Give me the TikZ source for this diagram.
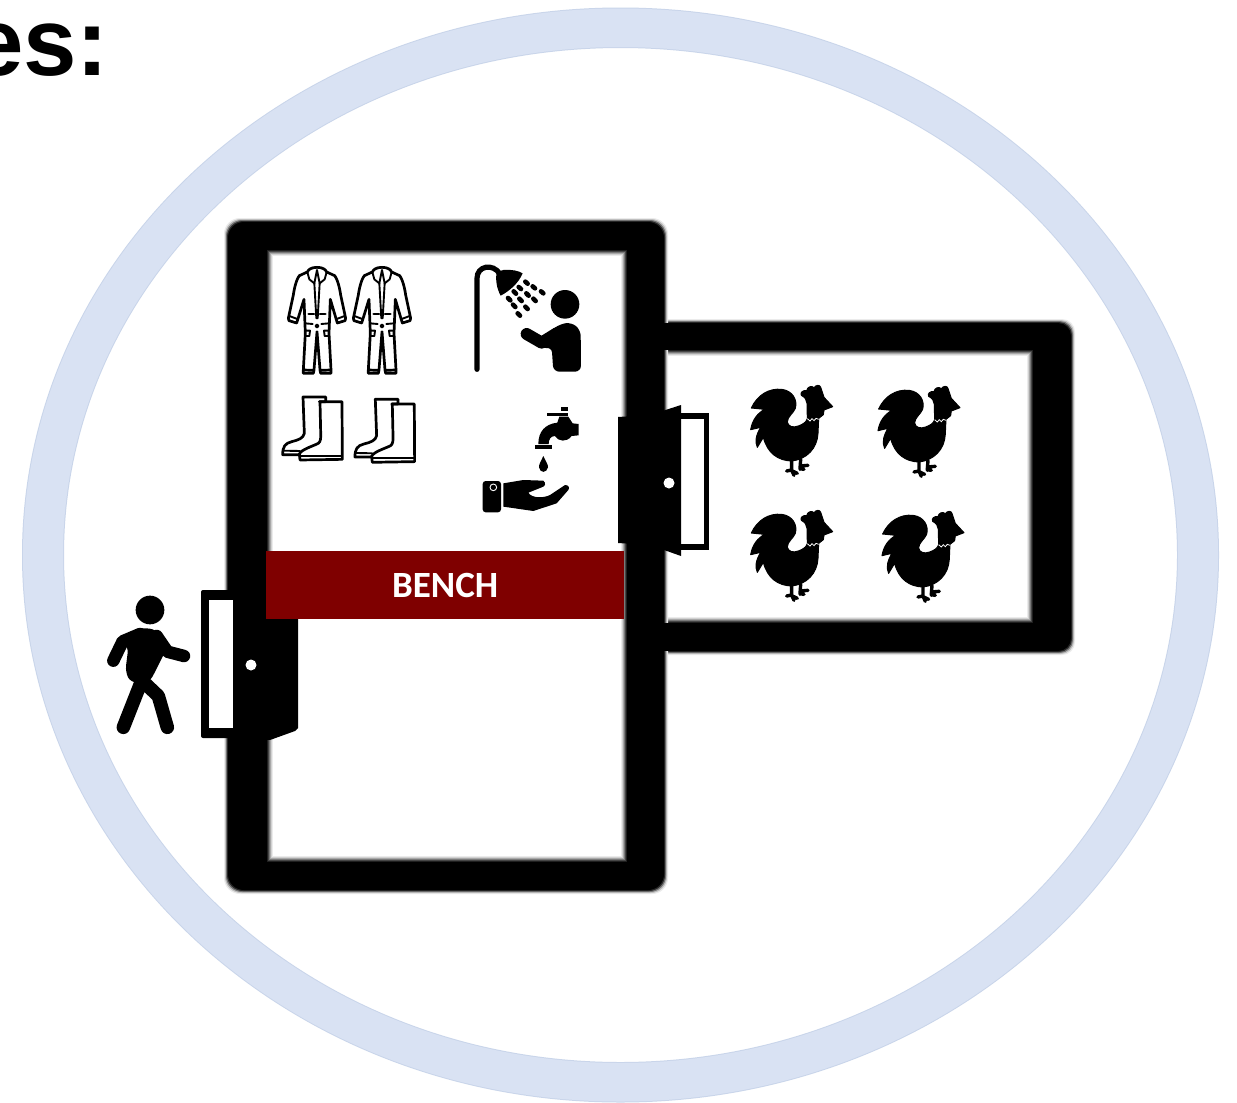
\documentclass[tikz,border=0pt]{standalone}
\usepackage{fontspec}
\setmainfont{Liberation Sans}
\newfontfamily\benchfont{Carlito}
\definecolor{ringblue}{HTML}{D9E2F3}
\definecolor{ringedge}{HTML}{C9D5EA}
\definecolor{benchred}{HTML}{7F0000}
\newcommand{\softbox}[5]{%
  \foreach \g/\d in {8/2,25/1,55/0,85/-1}{\fill[black!\g,rounded corners=#5] (#1-\d,#2-\d) rectangle (#3+\d,#4+\d);}
  \fill[black,rounded corners=#5] (#1+2,#2+2) rectangle (#3-2,#4-2);
}
\newcommand{\softhole}[4]{%
  \foreach \g/\d in {88/-3,72/-2,52/-1,34/0,18/1,8/2,0/3}{\fill[black!\g] (#1+\d,#2+\d) rectangle (#3-\d,#4-\d);}
}
\tikzset{
  x=1pt,y=-1pt,
  icon/.style={line width=2.7pt,line join=round,line cap=round},
  thin icon/.style={line width=1.9pt,line join=round,line cap=round},
  pics/rooster/.style={code={
    \filldraw[black,line width=1pt,line join=round] (668,110) -- (642,120) -- (640,134) -- (626,145) -- (624,190)
      .. controls (622,235) and (590,268) .. (545,273)
      .. controls (505,272) and (472,250) .. (460,202)
      -- (442,232) .. controls (434,215) and (438,195) .. (452,172)
      -- (422,179) .. controls (427,150) and (442,130) .. (464,118)
      -- (424,114) .. controls (442,75) and (477,54) .. (515,58)
      .. controls (548,62) and (563,90) .. (556,115)
      .. controls (550,130) and (532,140) .. (532,156)
      .. controls (534,170) and (550,174) .. (565,168)
      .. controls (578,163) and (588,158) .. (592,146)
      -- (591,100) .. controls (590,90) and (586,82) .. (574,76) .. controls (570,68) and (578,60) .. (590,62)
      .. controls (592,50) and (605,46) .. (612,53) .. controls (618,44) and (630,44) .. (632,52) -- (642,82) -- cycle;
    \draw[white,line width=.8pt] (592,146) -- (600,153) -- (606,146) -- (612,152) -- (618,145) -- (626,148);
    \draw[black,line width=3.4pt,line cap=round,line join=round]
      (545,272) -- (545,300) -- (530,303) (545,300) -- (552,316) (545,302) -- (562,310)
      (572,268) -- (570,298) (570,288) -- (594,286) (570,296) -- (582,298);
  }},
  pics/coverall/.style={code={
    \draw[icon] (141,52) .. controls (125,52) and (115,58) .. (112,66) -- (88,77) .. controls (78,90) and (72,120) .. (70,135) -- (55,205) -- (57,212) -- (80,219) -- (102,148)
      -- (106,250) -- (100,360) -- (100,370) -- (130,370) -- (132,360) -- (141,245) -- (150,360) -- (152,370) -- (183,370) -- (183,360) -- (177,250) -- (181,148)
      -- (202,219) -- (225,212) -- (227,205) -- (212,135) .. controls (210,120) and (204,90) .. (194,77) -- (170,66) .. controls (167,58) and (157,52) .. (141,52);
    \draw[thin icon] (112,66) -- (118,88) -- (133,100) -- (141,60) -- (149,100) -- (164,88) -- (170,66);
    \draw[thin icon] (133,100) -- (139,205) (149,100) -- (143,205);
    \draw[icon] (116,192) -- (132,192) (150,192) -- (166,192);
    \draw[icon] (141,228) circle[radius=3.2];
    \draw[thin icon] (105,220) -- (128,222) (177,220) -- (154,222);
    \draw[thin icon] (106,242) -- (120,242) -- (118,258) -- (106,258) (176,242) -- (162,242) -- (164,258) -- (176,258);
    \draw[thin icon] (58,198) -- (82,207) (224,198) -- (200,207);
    \draw[icon] (101,360) -- (130,361) (182,360) -- (152,361);
  }},
  pics/boots/.style={code={
    \draw[icon] (150,455) -- (216,455) -- (217,628) -- (90,630) -- (88,612) .. controls (95,598) and (125,590) .. (145,580) .. controls (152,575) and (153,565) .. (152,545) -- cycle;
    \draw[thin icon] (90,618) -- (216,618);
    \draw[icon] (148,455) -- (167,455) -- (167,441) -- (99,441) -- (103,550) .. controls (100,565) and (85,570) .. (65,575) .. controls (45,580) and (38,590) .. (38,614) -- (88,614);
    \draw[thin icon] (40,602) -- (90,603);
  }}
}
\begin{document}
\begin{tikzpicture}
\useasboundingbox (0,0) rectangle (1237,1103);
\clip (0,0) rectangle (1237,1103);
\fill[white] (0,0) rectangle (1237,1103);
% ring
\fill[ringedge,even odd rule] (620.5,555) ellipse[x radius=598.5,y radius=547.5] (620.5,555) ellipse[x radius=556.5,y radius=507];
\fill[ringblue,even odd rule] (620.5,555) ellipse[x radius=597.5,y radius=546.5] (620.5,555) ellipse[x radius=557.5,y radius=508];
% title fragment
\node[anchor=base east,inner sep=0pt,font=\bfseries\fontsize{96}{96}\selectfont] (title) at (109,75) {es:};
% walls
\softbox{640}{321}{1073}{653}{13}
\softhole{640}{353}{1030}{620}
\softbox{226}{220}{666}{892}{16}
\softhole{270}{253}{624}{859}
% wall joints
\fill[black] (655,323) rectangle (680,350);
\fill[black] (655,623) rectangle (680,651);
% left door
\fill[black,rounded corners=2pt] (201,590) rectangle (270,738);
\fill[white] (209,600) rectangle (233,728);
\fill[black] (233,590) -- (270,590) -- (270,619) -- (298,619) -- (298,728) -- (295,731) -- (270,740) -- (233,738) -- cycle;
\fill[white] (251,665) circle[radius=5.5];
% bench
\node[fill=benchred,text=white,minimum width=358pt,minimum height=68pt,inner sep=0pt,anchor=north west,font=\benchfont\bfseries\fontsize{37}{37}\selectfont] (bench) at (266,551) {BENCH};
% right door
\fill[black] (681,413) rectangle (709,550);
\fill[white] (681,419) rectangle (704,544);
\fill[black] (618,417) -- (650,415) -- (681,405) -- (681,556) -- (650,545) -- (618,543) -- cycle;
\fill[white] (669,483) circle[radius=5.5];
% walker
\begin{scope}[shift={(90,570)},scale=1/3]
  \fill (180,120) circle[radius=43];
  \fill[rounded corners=6pt] (92,200) -- (150,173) -- (198,178) -- (232,232) -- (180,335) -- (122,338) -- (106,305) -- (115,232) -- cycle;
  \draw[line width=12.5pt,line cap=round,line join=round] (70,272) -- (98,214) -- (150,192) (200,198) -- (232,245) -- (282,258);
  \draw[line width=13.5pt,line cap=round,line join=round] (100,472) -- (150,345) (232,472) -- (205,378) -- (165,340);
\end{scope}
% coveralls
\pic[shift={(270,250)},scale=1/3] {coverall};
\pic[shift={(335,250)},scale=1/3] {coverall};
% boots
\pic[shift={(270,250)},scale=1/3] {boots};
\pic[shift={(342.3,252.3)},scale=1/3] {boots};
% shower
\begin{scope}[shift={(270,250)},scale=1/3]
  \draw[line width=5.2pt,line cap=round] (621,358) -- (621,85) .. controls (621,48) and (668,38) .. (690,72);
  \fill (680,66) -- (700,60) .. controls (725,58) and (745,62) .. (758,70) .. controls (745,100) and (720,122) .. (692,137) .. controls (680,115) and (676,90) .. (680,66) -- cycle;
  \draw[line width=4.6pt,line cap=round]
    (766,95) -- (773,101) (788,109) -- (795,115) (813,124) -- (820,130)
    (746,111) -- (753,117) (769,130) -- (776,137) (790,146) -- (797,153)
    (731,124) -- (738,131) (748,146) -- (755,153) (766,170) -- (773,177)
    (714,144) -- (721,151) (729,164) -- (736,171) (743,190) -- (750,197);
  \fill (885,163) circle[radius=43];
  \fill[rounded corners=6pt] (933,365) -- (932,240) -- (905,217) -- (870,222) -- (815,262) -- (815,298) -- (845,290) -- (850,365) -- cycle;
  \draw[line width=12pt,line cap=round,line join=round] (770,252) -- (815,278) -- (860,250);
% tap
  \fill (795,584) rectangle (845,598);
  \fill (805,582) .. controls (805,545) and (825,522) .. (862,518) -- (868,500) -- (895,500) -- (908,520) -- (926,522) -- (926,556) -- (905,558) .. controls (890,578) and (865,575) .. (855,558) .. controls (842,558) and (836,568) .. (836,582) -- cycle;
  \fill (830,489) rectangle (895,498);
  \fill (873,472) rectangle (893,482);
  \fill (820,618) .. controls (812,635) and (806,645) .. (807,652) .. controls (810,670) and (830,670) .. (834,652) .. controls (835,645) and (828,635) .. (820,618) -- cycle;
% hand
  \fill[rounded corners=3pt] (638,693) rectangle (693,787);
  \draw[white,line width=.9pt] (670,712) circle[radius=10];
  \fill (700,700) -- (760,690) -- (820,692) .. controls (830,700) and (825,710) .. (815,712) -- (775,728) .. controls (785,745) and (820,745) .. (840,735) -- (885,705) .. controls (895,705) and (900,712) .. (895,720) -- (860,760) -- (790,783) -- (700,770) -- cycle;
\end{scope}
% roosters
\pic[shift={(610,370)},scale=1/3] {rooster};
\pic[shift={(737.3,371)},scale=1/3] {rooster};
\pic[shift={(610,495)},scale=1/3] {rooster};
\pic[shift={(741.3,496)},scale=1/3] {rooster};
\end{tikzpicture}
\end{document}
